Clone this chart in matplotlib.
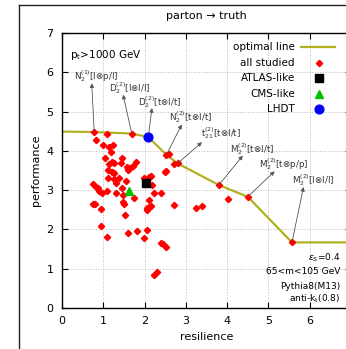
import matplotlib
matplotlib.use('Agg')
import matplotlib.pyplot as plt
from matplotlib.lines import Line2D

# frontier of the studied observables (line extended flat to both edges)
optimal_x = [0.0, 0.78, 1.69, 2.09, 2.53, 2.80, 3.80, 4.50, 5.57, 7.0]
optimal_y = [4.49, 4.48, 4.44, 4.35, 3.90, 3.68, 3.13, 2.83, 1.67, 1.67]

# every studied observable
studied_x = [0.78, 1.69, 2.52, 2.60, 2.72, 2.82, 3.80, 4.50, 5.57,
             1.08, 0.83, 1.00, 1.14, 1.24, 1.18, 1.04, 1.45, 1.79, 1.20,
             1.14, 1.26, 1.42, 1.57, 1.65, 1.72, 1.59, 1.12, 1.20, 1.26,
             2.53, 2.50, 1.12, 1.25, 1.38, 1.56, 1.30, 2.15, 2.11, 1.98,
             2.18, 0.74, 0.82, 0.88, 0.90, 0.98, 1.10, 1.30, 1.46, 2.23,
             2.40, 2.11, 2.06, 2.15, 2.10, 2.05, 1.48, 1.47, 1.51, 1.75,
             0.74, 0.80, 0.94, 1.52, 2.72, 3.25, 3.40, 4.02, 0.95, 1.10,
             1.60, 1.81, 2.06, 1.99, 2.41, 2.45, 2.53, 2.23, 2.30]
studied_y = [4.48, 4.44, 3.90, 3.91, 3.67, 3.68, 3.13, 2.83, 1.67,
             4.42, 4.27, 4.16, 4.10, 4.15, 3.98, 3.83, 3.83, 3.72, 3.72,
             3.66, 3.68, 3.68, 3.58, 3.56, 3.62, 3.52, 3.51, 3.45, 3.43,
             3.50, 3.47, 3.30, 3.28, 3.30, 3.24, 3.17, 3.36, 3.34, 3.30,
             3.13, 3.15, 3.09, 3.05, 2.98, 2.93, 2.98, 2.92, 3.05, 2.94,
             2.94, 2.75, 2.55, 2.60, 2.57, 2.50, 2.88, 2.70, 2.64, 2.79,
             2.64, 2.66, 2.52, 2.38, 2.62, 2.55, 2.60, 2.77, 2.09, 1.80,
             1.92, 1.97, 1.99, 1.77, 1.66, 1.63, 1.56, 0.84, 0.92]

atlas_x, atlas_y = [2.04], [3.17]
cms_x, cms_y = [1.62], [2.98]
lhdt_x, lhdt_y = [2.09], [4.35]

# labelled frontier observables: name, which frontier point, label position, arrow tip
tag_names = [r'N$_2^{(1)}$[l⊗p/l]', r'D$_2^{(2)}$[l⊗l/l]', r'D$_2^{(2)}$[t⊗l/t]',
             r'N$_2^{(2)}$[t⊗l/t]', r't$_{21}^{(2)}$[t⊗l/t]', r'M$_2^{(2)}$[t⊗l/t]',
             r'M$_2^{(2)}$[t⊗p/p]', r'M$_2^{(2)}$[l⊗l/l]']
tag_point = [1, 2, 3, 4, 5, 6, 7, 8]
tag_text_x = [0.82, 1.64, 2.37, 3.12, 3.86, 4.60, 5.36, 6.09]
tag_text_y = [5.90, 5.60, 5.25, 4.86, 4.45, 4.05, 3.66, 3.26]
tag_tip_x = [0.72, 1.48, 2.18, 2.90, 3.39, 4.38, 5.15, 5.85]
tag_tip_y = [5.72, 5.43, 5.09, 4.67, 4.22, 3.88, 3.48, 3.08]

fig = plt.figure(figsize=(3.46, 3.49), dpi=100)
ax = fig.add_axes([62 / 346, 41 / 349, 289 / 346, 275 / 349])

line_color = '#b0b020'
ax.plot(optimal_x, optimal_y, color=line_color, lw=1.6, zorder=2)
ax.plot(studied_x, studied_y, ls='none', marker='D', ms=3.2, color='#ff0000', zorder=3)
ax.plot(atlas_x, atlas_y, ls='none', marker='s', ms=5.8, color='black', zorder=4)
ax.plot(cms_x, cms_y, ls='none', marker='^', ms=6.3, color='#00c000', zorder=4)
ax.plot(lhdt_x, lhdt_y, ls='none', marker='o', ms=6.3, color='#0000ff', zorder=4)

for name, i, tx, ty, hx, hy in zip(tag_names, tag_point, tag_text_x, tag_text_y,
                                   tag_tip_x, tag_tip_y):
    ax.annotate('', xy=(hx, hy), xytext=(optimal_x[i], optimal_y[i]),
                arrowprops=dict(arrowstyle='-|>', color='#555555', lw=0.6,
                                mutation_scale=6, shrinkA=0, shrinkB=0))
    ax.text(tx, ty, name, fontsize=6.3, color='#333333', ha='center', va='center')

ax.text(0.19, 6.44, r'p$_{\rm t}$>1000 GeV', fontsize=7.5, va='center')
info = [r'$\epsilon_S$=0.4', '65<m<105 GeV', 'Pythia8(M13)', r'anti-k$_{\rm t}$(0.8)']
info_y = [1.27, 0.92, 0.54, 0.23]
for s, yy in zip(info, info_y):
    ax.text(6.74, yy, s, fontsize=6.5, ha='right', va='center')

# key: right-aligned labels with the sample to their right
key_labels = ['optimal line', 'all studied', 'ATLAS-like', 'CMS-like', 'LHDT']
key_styles = [dict(color=line_color, lw=1.6),
              dict(ls='none', marker='D', ms=3.2, color='#ff0000'),
              dict(ls='none', marker='s', ms=5.8, color='black'),
              dict(ls='none', marker='^', ms=6.3, color='#00c000'),
              dict(ls='none', marker='o', ms=6.3, color='#0000ff')]
for k, (lab, st) in enumerate(zip(key_labels, key_styles)):
    ky = 0.949 - k * 0.0565
    ax.text(0.806, ky, lab, transform=ax.transAxes, fontsize=7.5,
            ha='right', va='center')
    if st.get('ls') == 'none':
        ax.plot([0.889], [ky], transform=ax.transAxes, clip_on=False, **st)
    else:
        ax.plot([0.827, 0.945], [ky, ky], transform=ax.transAxes, clip_on=False, **st)

ax.set_xlim(0, 7)
ax.set_ylim(0, 7)
ax.set_xticks(range(0, 8))
ax.set_xticklabels([str(v) for v in range(0, 7)] + [''])
ax.set_yticks(range(0, 8))
ax.grid(True, ls=':', color='#bbbbbb', lw=0.7)
ax.tick_params(direction='in', top=True, right=True, length=4, width=0.8,
               labelsize=8, pad=6)
for sp in ax.spines.values():
    sp.set_linewidth(1.0)
ax.set_xlabel('resilience', fontsize=8)
ax.set_ylabel('performance', fontsize=8)
ax.set_title('parton → truth', fontsize=8, pad=10)

# outer frame of the canvas
fig.add_artist(Line2D([19 / 346, 19 / 346], [0, 1 - 5 / 349], color='#222222', lw=1.0))
fig.add_artist(Line2D([19 / 346, 1], [1 - 5 / 349, 1 - 5 / 349], color='#222222', lw=1.0))

fig.savefig('out.png', dpi=100)
